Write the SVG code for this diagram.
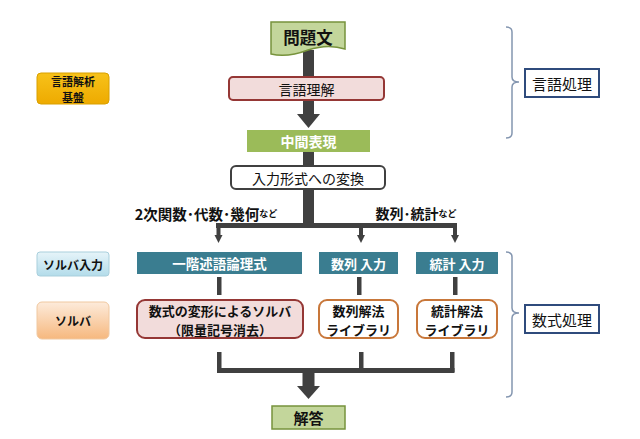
<svg xmlns="http://www.w3.org/2000/svg" width="640" height="439" viewBox="0 0 640 439">
<defs>
<linearGradient id="gGold" x1="0" y1="0" x2="0" y2="1"><stop offset="0" stop-color="#f7c21a"/><stop offset="1" stop-color="#eeaa00"/></linearGradient>
<linearGradient id="gBlue" x1="0" y1="0" x2="0" y2="1"><stop offset="0" stop-color="#e6f4f9"/><stop offset="1" stop-color="#b3dcea"/></linearGradient>
<linearGradient id="gOrange" x1="0" y1="0" x2="0" y2="1"><stop offset="0" stop-color="#fdebdb"/><stop offset="1" stop-color="#f6b87e"/></linearGradient>
<style>
text{font-family:"Noto Sans CJK JP","Noto Sans",sans-serif;text-anchor:middle;dominant-baseline:central}
.b{font-weight:bold}
.w{fill:#ffffff}
.k{fill:#111111}
.line{fill:#404040;stroke:none}
.brace{fill:none;stroke:#8496b0;stroke-width:1.5}
.teal{fill:#3a7d90}
.pink{fill:#f2dcdb;stroke:#953735;stroke-width:2}
.orng{fill:#ffffff;stroke:#c8773a;stroke-width:2}
.cat{fill:#ffffff;stroke:#2f4b7c;stroke-width:2}
</style>
</defs>
<rect width="640" height="439" fill="#ffffff"/>

<g id="connectors">
  <rect class="line" x="303" y="50" width="11" height="65"/>
  <polygon class="line" points="297,114 320,114 308.5,128"/>
  <rect class="line" x="303" y="151" width="11" height="76"/>
  <rect class="line" x="216" y="223" width="241" height="5"/>
  <rect class="line" x="216.5" y="225" width="4" height="11"/>
  <polygon class="line" points="214.5,235 222.5,235 218.5,243"/>
  <rect class="line" x="359" y="225" width="4" height="11"/>
  <polygon class="line" points="357,235 365,235 361,243"/>
  <rect class="line" x="453" y="225" width="4" height="11"/>
  <polygon class="line" points="451,235 459,235 455,243"/>
  <rect class="line" x="217" y="277" width="4.5" height="18"/>
  <rect class="line" x="357" y="277" width="4.5" height="18"/>
  <rect class="line" x="453" y="277" width="4.5" height="18"/>
  <rect class="line" x="217" y="352" width="4.5" height="20"/>
  <rect class="line" x="359" y="352" width="4.5" height="20"/>
  <rect class="line" x="450" y="352" width="4.5" height="20"/>
  <rect class="line" x="217" y="368" width="237.5" height="5"/>
  <rect class="line" x="302.5" y="372" width="12" height="15"/>
  <polygon class="line" points="297,386 320,386 308.5,399"/>
  <path class="brace" d="M506,27 Q512,27 512,32 V77 Q512,82 519,82 Q512,82 512,87 V133 Q512,138 506,138"/>
  <path class="brace" d="M506,252 Q512,252 512,257 V308 Q512,313 519,313 Q512,313 512,318 V392 Q512,397 506,397"/>
</g>

<g id="mondaibun">
  <path d="M271,22 H345 V49 C 333,45 320,46 308,50 C 295,55 283,57 271,54 Z" fill="#c3d69b" stroke="#77933c" stroke-width="1.5"/>
  <text class="b k" x="308" y="37" font-size="16.5">問題文</text>
</g>

<g id="gengo-rikai">
  <rect class="pink" x="229" y="77" width="155" height="23" rx="4"/>
  <text class="k" x="306.5" y="88.5" font-size="14">言語理解</text>
</g>

<g id="chukan">
  <rect x="247" y="130" width="123" height="22" fill="#9bbb59"/>
  <text class="b w" x="308.5" y="141" font-size="14">中間表現</text>
</g>

<g id="henkan">
  <rect x="231" y="166" width="154" height="23" rx="5" fill="#ffffff" stroke="#404040" stroke-width="2"/>
  <text class="k" x="308" y="177.5" font-size="14">入力形式への変換</text>
</g>

<g id="label-left">
  <text class="b k" x="206" y="213" font-size="14.5">2次関数･代数･幾何<tspan font-size="9">など</tspan></text>
</g>
<g id="label-right">
  <text class="b k" x="416" y="213" font-size="14">数列･統計<tspan font-size="9">など</tspan></text>
</g>

<g id="fol">
  <rect class="teal" x="137" y="252" width="165" height="22"/>
  <text class="b w" x="219.5" y="263" font-size="13.5">一階述語論理式</text>
</g>
<g id="suretsu-input">
  <rect class="teal" x="319" y="252" width="79" height="22"/>
  <text class="b w" x="358.5" y="263" font-size="13">数列 入力</text>
</g>
<g id="toukei-input">
  <rect class="teal" x="416" y="252" width="82" height="22"/>
  <text class="b w" x="457" y="263" font-size="13">統計 入力</text>
</g>

<g id="solver-main">
  <rect class="pink" x="137" y="300" width="166" height="38" rx="8"/>
  <text class="b k" font-size="13"><tspan x="220" y="309.5">数式の変形によるソルバ</tspan><tspan x="220" y="328.5">（限量記号消去）</tspan></text>
</g>
<g id="solver-suretsu">
  <rect class="orng" x="319" y="300" width="79" height="38" rx="8"/>
  <text class="b k" font-size="13"><tspan x="358.5" y="309.5">数列解法</tspan><tspan x="358.5" y="328.5">ライブラリ</tspan></text>
</g>
<g id="solver-toukei">
  <rect class="orng" x="417" y="300" width="80" height="38" rx="8"/>
  <text class="b k" font-size="13"><tspan x="457" y="309.5">統計解法</tspan><tspan x="457" y="328.5">ライブラリ</tspan></text>
</g>

<g id="kaitou">
  <rect x="272" y="406" width="73" height="23" fill="#c3d69b" stroke="#77933c" stroke-width="1.5"/>
  <text class="b k" x="308.5" y="417.5" font-size="15">解答</text>
</g>

<g id="side-gengo-kiban">
  <rect x="37" y="73" width="72" height="31" rx="4" fill="url(#gGold)" stroke="#d9a000" stroke-width="1"/>
  <text class="b k" font-size="11"><tspan x="73" y="80.5">言語解析</tspan><tspan x="73" y="96.5">基盤</tspan></text>
</g>
<g id="side-solver-input">
  <rect x="37" y="252" width="72" height="24" rx="3" fill="url(#gBlue)" stroke="#a9cfdc" stroke-width="1"/>
  <text class="b k" x="73" y="264" font-size="12">ソルバ入力</text>
</g>
<g id="side-solver">
  <rect x="37" y="302" width="72" height="37" rx="5" fill="url(#gOrange)" stroke="#f0c8a0" stroke-width="1"/>
  <text class="b k" x="73" y="320.5" font-size="12">ソルバ</text>
</g>

<g id="cat-gengo">
  <rect class="cat" x="525" y="69" width="74" height="28"/>
  <text class="k" x="562" y="83" font-size="15">言語処理</text>
</g>
<g id="cat-suushiki">
  <rect class="cat" x="525" y="305" width="74" height="28"/>
  <text class="k" x="562" y="319" font-size="15">数式処理</text>
</g>
</svg>
